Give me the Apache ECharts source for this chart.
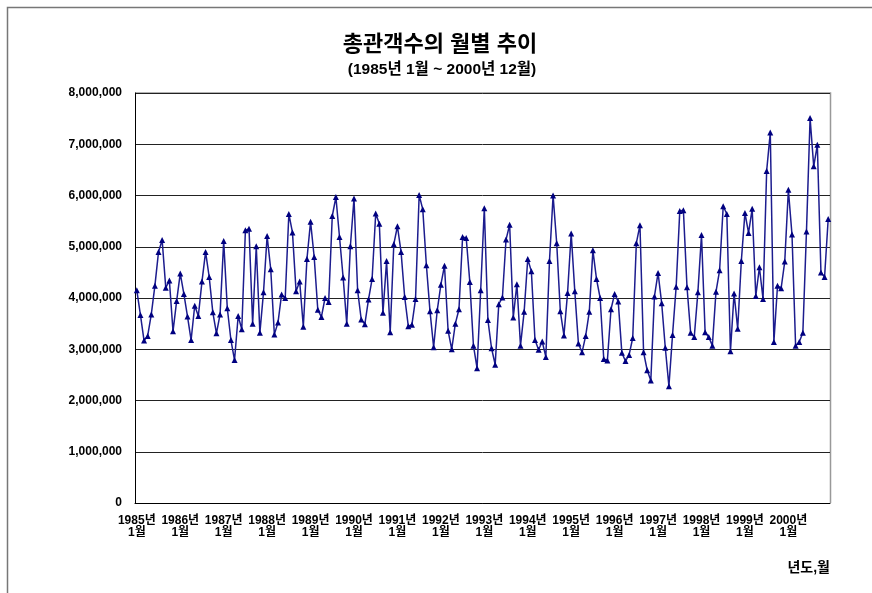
<!DOCTYPE html>
<html>
<head>
<meta charset="utf-8">
<script src="https://cdn.jsdelivr.net/npm/echarts@6/dist/echarts.min.js"></script>
<style>
  html, body { margin: 0; padding: 0; background: #fff; }
  #chart { width: 872px; height: 593px; }
</style>
</head>
<body>
<div id="chart"></div>
<script>
// 년도 (월별 카테고리는 아래에서 만듦)
var years = ['1985', '1986', '1987', '1988', '1989', '1990', '1991', '1992',
             '1993', '1994', '1995', '1996', '1997', '1998', '1999', '2000'];

// 월별 총관객수 (단위: 백만 명, 그림에서 읽은 값)
var v1985 = [4.15, 3.67, 3.17, 3.26, 3.68, 4.24, 4.90, 5.13, 4.20, 4.34, 3.35, 3.94];
var v1986 = [4.48, 4.08, 3.64, 3.18, 3.85, 3.65, 4.32, 4.90, 4.41, 3.72, 3.31, 3.68];
var v1987 = [5.11, 3.80, 3.18, 2.79, 3.65, 3.39, 5.32, 5.35, 3.50, 5.01, 3.32, 4.11];
var v1988 = [5.21, 4.56, 3.29, 3.52, 4.07, 4.00, 5.64, 5.28, 4.13, 4.32, 3.44, 4.76];
var v1989 = [5.49, 4.80, 3.77, 3.63, 4.00, 3.92, 5.60, 5.97, 5.19, 4.40, 3.50, 5.01];
var v1990 = [5.94, 4.15, 3.58, 3.49, 3.97, 4.37, 5.65, 5.45, 3.71, 4.72, 3.33, 5.05];
var v1991 = [5.40, 4.90, 4.02, 3.45, 3.48, 3.98, 6.01, 5.73, 4.64, 3.74, 3.04, 3.76];
var v1992 = [4.26, 4.63, 3.36, 3.00, 3.50, 3.78, 5.19, 5.17, 4.31, 3.07, 2.63, 4.15];
var v1993 = [5.75, 3.57, 3.02, 2.70, 3.88, 4.01, 5.14, 5.43, 3.62, 4.27, 3.07, 3.73];
var v1994 = [4.76, 4.52, 3.18, 2.99, 3.15, 2.85, 4.72, 6.00, 5.07, 3.74, 3.27, 4.10];
var v1995 = [5.26, 4.13, 3.11, 2.94, 3.26, 3.73, 4.93, 4.37, 4.00, 2.81, 2.78, 3.78];
var v1996 = [4.08, 3.93, 2.93, 2.77, 2.89, 3.22, 5.07, 5.42, 2.94, 2.59, 2.39, 4.03];
var v1997 = [4.49, 3.90, 3.03, 2.28, 3.28, 4.22, 5.70, 5.71, 4.21, 3.32, 3.24, 4.11];
var v1998 = [5.23, 3.33, 3.24, 3.07, 4.12, 4.54, 5.79, 5.64, 2.96, 4.09, 3.40, 4.72];
var v1999 = [5.66, 5.27, 5.74, 4.04, 4.60, 3.98, 6.48, 7.23, 3.14, 4.24, 4.19, 4.71];
var v2000 = [6.11, 5.24, 3.07, 3.14, 3.32, 5.30, 7.51, 6.57, 6.99, 4.50, 4.41, 5.54];

// y축 눈금
var yTicks = [0, 1000000, 2000000, 3000000, 4000000, 5000000, 6000000, 7000000, 8000000];

var yearly = [v1985, v1986, v1987, v1988, v1989, v1990, v1991, v1992,
              v1993, v1994, v1995, v1996, v1997, v1998, v1999, v2000];

// 카테고리: '1985년\n1월', '1985년\n2월' ...
var categories = [];
var values = [];
years.forEach(function (y, i) {
    for (var m = 1; m <= 12; m++) {
        categories.push(y + '년\n' + m + '월');
        values.push(Math.round(yearly[i][m - 1] * 1000000));
    }
});

var fontFamily = '"Liberation Sans", Arial, "Noto Sans CJK KR", sans-serif';

var myChart = echarts.init(document.getElementById('chart'));

var option = {
    backgroundColor: '#fff',
    animation: false,
    graphic: [
        {
            type: 'text',
            x: 440, y: 45,
            style: {
                text: '총관객수의 월별 추이',
                font: 'bold 22px ' + fontFamily,
                fill: '#000',
                align: 'center',
                verticalAlign: 'middle'
            }
        },
        {
            type: 'text',
            x: 442, y: 70,
            style: {
                text: '(1985년 1월 ~ 2000년 12월)',
                font: 'bold 15.5px ' + fontFamily,
                fill: '#000',
                align: 'center',
                verticalAlign: 'middle'
            }
        },
        {
            type: 'text',
            x: 830, y: 568,
            style: {
                text: '년도,월',
                font: 'bold 14px ' + fontFamily,
                fill: '#000',
                align: 'right',
                verticalAlign: 'middle'
            }
        },
        // 바깥 테두리
        {
            type: 'polyline',
            shape: { points: [[7.5, 593], [7.5, 7.5], [872, 7.5]] },
            style: { stroke: '#777', lineWidth: 1.5, fill: null }
        },
        // 그림 영역 위/오른쪽 테두리
        {
            type: 'polyline',
            shape: { points: [[135, 93], [830.5, 93], [830.5, 503]] },
            style: { stroke: '#999', lineWidth: 1.5, fill: null }
        }
    ],
    grid: {
        left: 135,
        right: 42,
        top: 93,
        bottom: 90,
        containLabel: false
    },
    xAxis: {
        type: 'category',
        data: categories,
        boundaryGap: true,
        axisLine: { lineStyle: { color: '#000', width: 1 } },
        axisTick: {
            interval: 11,
            length: 4,
            alignWithLabel: false,
            lineStyle: { color: '#000' }
        },
        axisLabel: {
            interval: 11,
            color: '#000',
            fontFamily: fontFamily,
            fontWeight: 'bold',
            fontSize: 12,
            lineHeight: 12,
            margin: 12
        },
        splitLine: { show: false }
    },
    yAxis: {
        type: 'value',
        min: yTicks[0],
        max: yTicks[yTicks.length - 1],
        interval: 1000000,
        axisLine: { show: true, lineStyle: { color: '#000', width: 1 } },
        axisTick: { show: false },
        axisLabel: {
            color: '#000',
            fontFamily: fontFamily,
            fontWeight: 'bold',
            fontSize: 12,
            margin: 13,
            formatter: function (v) {
                return v.toString().replace(/\B(?=(\d{3})+(?!\d))/g, ',');
            }
        },
        splitLine: { lineStyle: { color: '#222', width: 1 } }
    },
    series: [
        {
            type: 'line',
            data: values,
            symbol: 'triangle',
            symbolSize: 6,
            showAllSymbol: true,
            itemStyle: { color: '#000080' },
            lineStyle: { color: '#1c1c8e', width: 1.5 }
        }
    ]
};

myChart.setOption(option);
</script>
</body>
</html>
